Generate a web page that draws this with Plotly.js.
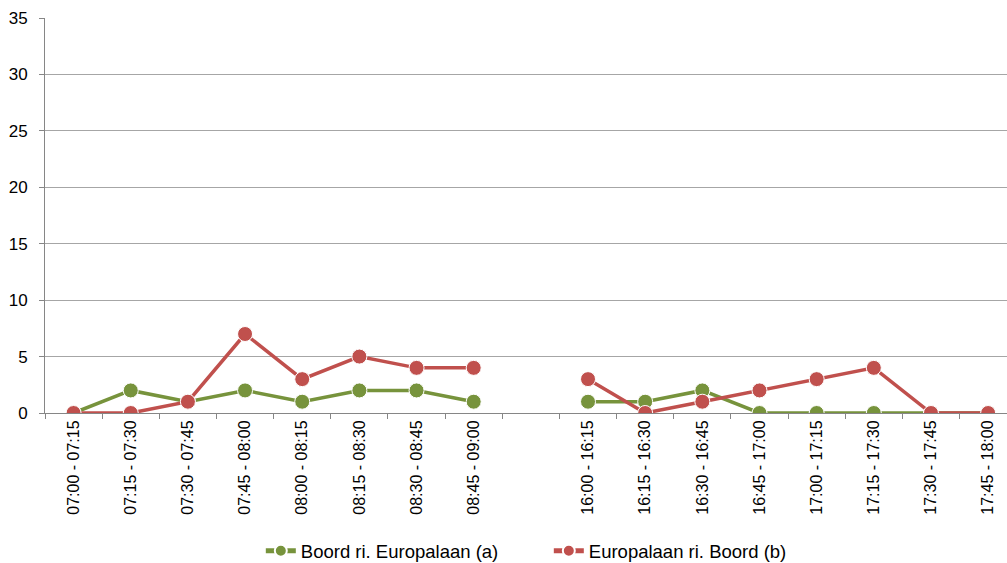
<!DOCTYPE html>
<html>
<head>
<meta charset="utf-8">
<script src="https://cdn.plot.ly/plotly-3.0.1.min.js"></script>
<style>html,body{margin:0;padding:0;background:#fff;}#chart{width:1007px;height:563px;}</style>
</head>
<body>
<div id="chart"></div>
<script>
const categories = ["07:00 - 07:15","07:15 - 07:30","07:30 - 07:45","07:45 - 08:00","08:00 - 08:15","08:15 - 08:30","08:30 - 08:45","08:45 - 09:00"," ","16:00 - 16:15","16:15 - 16:30","16:30 - 16:45","16:45 - 17:00","17:00 - 17:15","17:15 - 17:30","17:30 - 17:45","17:45 - 18:00"];
const seriesA = [0,2,1,2,1,2,2,1,null,1,1,2,0,0,0,0,0];
const seriesB = [0,0,1,7,3,5,4,4,null,3,0,1,2,3,4,0,0];
const nameA = "Boord ri. Europalaan (a)";
const nameB = "Europalaan ri. Boord (b)";
const yTicks = [0,5,10,15,20,25,30,35];

const traces = [
  {x: categories, y: seriesA, name: nameA, type: "scatter", mode: "lines+markers", connectgaps: false,
   line: {color: "#77933C", width: 3.5}, marker: {color: "#77933C", size: 15, line: {color: "#ffffff", width: 1}}},
  {x: categories, y: seriesB, name: nameB, type: "scatter", mode: "lines+markers", connectgaps: false,
   line: {color: "#C0504D", width: 3.5}, marker: {color: "#C0504D", size: 15, line: {color: "#ffffff", width: 1}}}
];

const layout = {
  width: 1007, height: 563,
  margin: {l: 45, r: 0, t: 18, b: 150},
  paper_bgcolor: "#fff", plot_bgcolor: "#fff",
  font: {family: "Liberation Sans, Arial, sans-serif", color: "#000"},
  showlegend: true,
  legend: {orientation: "h", xref: "container", yref: "container", x: 0.259, xanchor: "left", y: 0.021, yanchor: "middle",
           font: {size: 18.5}, itemwidth: 30, itemsizing: "constant", entrywidth: 243, entrywidthmode: "pixels"},
  xaxis: {
    type: "category", range: [-0.5, 16.33], tickson: "boundaries",
    ticks: "outside", ticklen: 5, tickcolor: "#868686",
    showline: true, linecolor: "#868686", linewidth: 1,
    showgrid: false, zeroline: false,
    tickangle: -90, tickfont: {size: 16}
  },
  yaxis: {
    range: [0, 35], tickvals: yTicks, ticktext: yTicks.map(String),
    ticks: "outside", ticklen: 5, tickcolor: "#868686",
    showline: true, linecolor: "#868686", linewidth: 1,
    showgrid: true, gridcolor: "#a6a6a6", gridwidth: 1,
    zeroline: false, tickfont: {size: 17}, ticklabelstandoff: 8
  }
};
Plotly.newPlot("chart", traces, layout, {displayModeBar: false, staticPlot: true});
</script>
</body>
</html>
